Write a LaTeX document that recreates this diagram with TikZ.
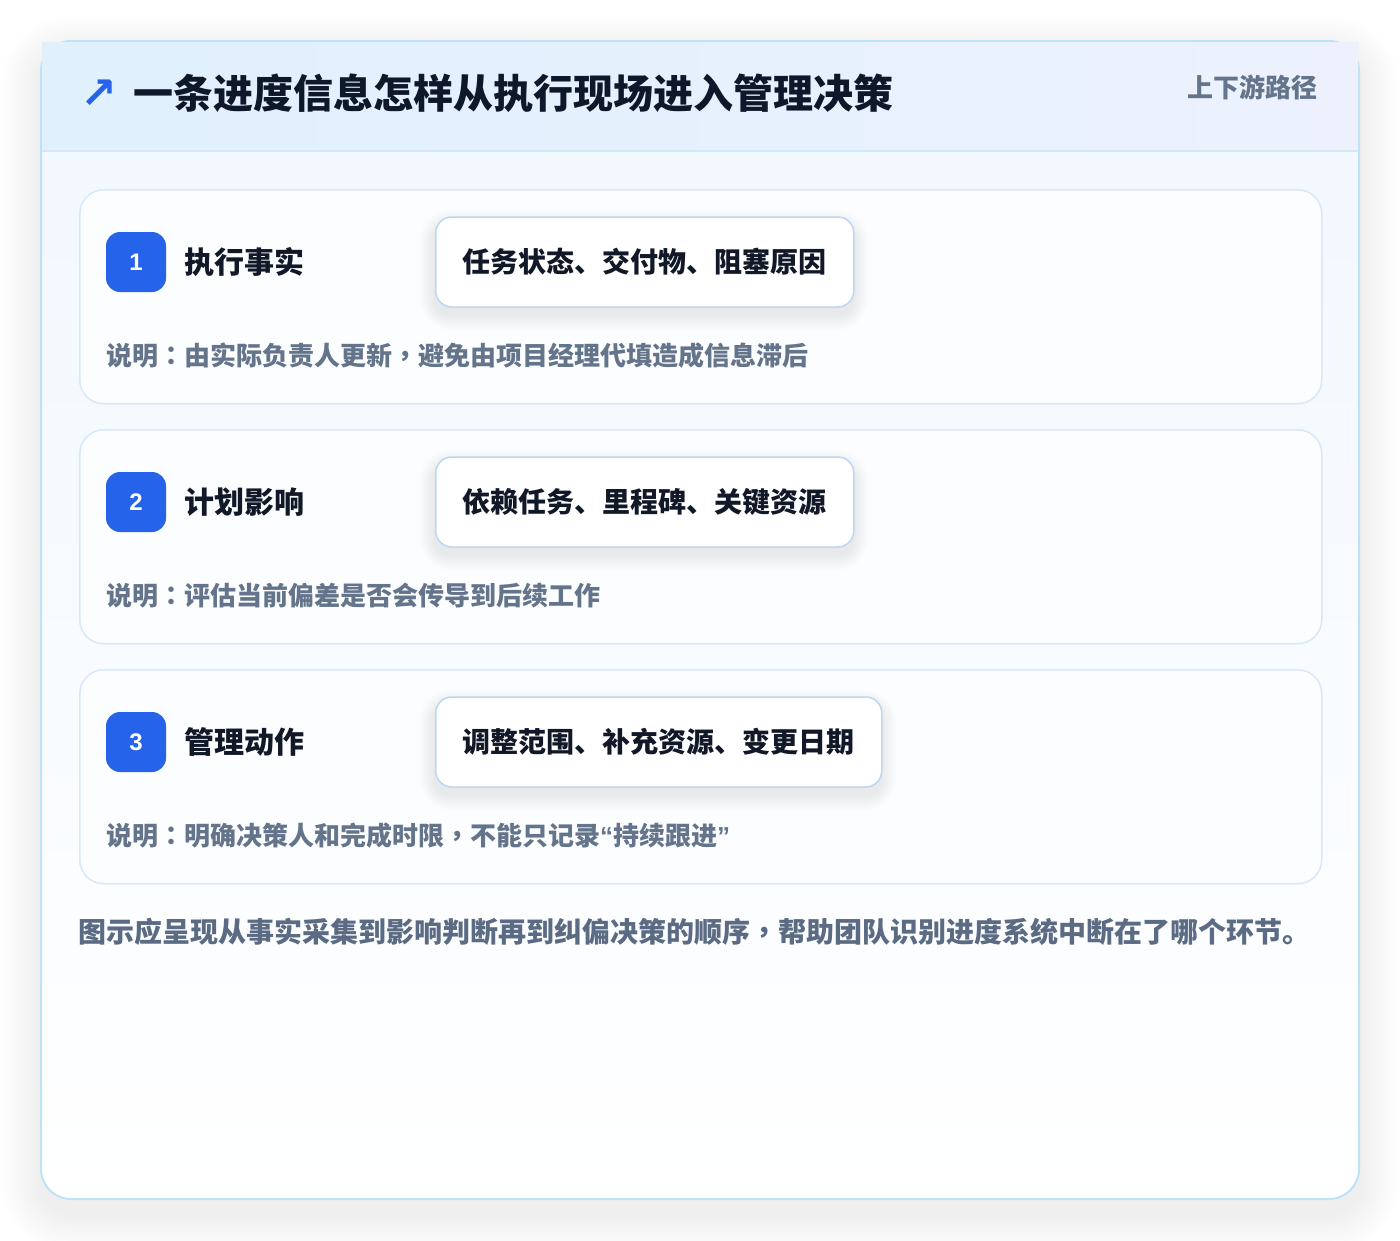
\documentclass[tikz,border=0pt]{standalone}
\usepackage{fontspec}
\setmainfont{Noto Sans CJK SC}
\newfontfamily\tcfont{Noto Sans CJK TC}
\newfontfamily\numfont{Liberation Sans}
\newfontfamily\symfont{DejaVu Sans}
\definecolor{cardline}{HTML}{BEE2F7}
\definecolor{hdrL}{HTML}{E0F0FD}
\definecolor{hdrR}{HTML}{ECF1FD}
\definecolor{hdrline}{HTML}{D3E7F7}
\definecolor{bodytop}{HTML}{F0F7FE}
\definecolor{stepfill}{HTML}{FBFDFF}
\definecolor{stepline}{HTML}{D8E8F8}
\definecolor{chipline}{HTML}{BDD6F2}
\definecolor{badge}{HTML}{2563EB}
\definecolor{titlec}{HTML}{0F172A}
\definecolor{chipc}{HTML}{111827}
\definecolor{descc}{HTML}{64748B}
\definecolor{footc}{HTML}{5B6B83}
\newcommand\fs[1]{\fontsize{#1}{#1}\selectfont}
\newcommand\tcp[1]{{\tcfont #1}}
\newcommand\latq[1]{{\numfont #1}}
\newcommand\softshadow[7]{%
  \foreach \i in {1,...,#6}{%
    \pgfmathsetmacro\rr{#5+\i*1.5}%
    \pgfmathsetmacro\ax{#1-\i*1.5}\pgfmathsetmacro\ay{#2-\i*1.5+#7}%
    \pgfmathsetmacro\bx{#3+\i*1.5}\pgfmathsetmacro\by{#4+\i*1.5+#7}%
    \fill[black,opacity=0.006,rounded corners=\rr pt] (\ax,\ay) rectangle (\bx,\by);}}
\tikzset{
  stepcard/.style={draw=stepline,line width=1.5pt,fill=stepfill,rounded corners=24pt,
    minimum width=1242pt,minimum height=214pt,anchor=north west,inner sep=0pt},
  chip/.style={draw=chipline,line width=1.5pt,fill=white,rounded corners=16pt,
    minimum height=90pt,inner xsep=27pt,inner ysep=0pt,anchor=west,
    font=\bfseries\fs{28},text=chipc},
  badgebox/.style={fill=badge,rounded corners=14pt,minimum size=60pt,inner sep=0pt,
    text=white,font=\numfont\bfseries\fs{24}},
  steplabel/.style={anchor=base west,inner sep=0pt,font=\bfseries\fs{30},text=chipc},
  desc/.style={anchor=base west,inner sep=0pt,font=\bfseries\fs{26},text=descc},
}
\begin{document}
\begin{tikzpicture}[x=1pt,y=-1pt]
\useasboundingbox[fill=white] (0,0) rectangle (1400,1240);
% outer card shadow
\foreach \i in {1,...,16}{%
  \pgfmathsetmacro\rr{30+\i*2.5}%
  \pgfmathsetmacro\ax{41-\i*2.5}\pgfmathsetmacro\ay{41-\i*2.5+14}%
  \pgfmathsetmacro\bx{1359+\i*2.5}\pgfmathsetmacro\by{1199+\i*2.5+14}%
  \fill[black,opacity=0.0055,rounded corners=\rr pt] (\ax,\ay) rectangle (\bx,\by);}
% outer card
\path[draw=cardline,line width=2pt,rounded corners=30pt,top color=bodytop,bottom color=white]
  (41,41) rectangle (1359,1199);
% header band
\fill[left color=hdrL,right color=hdrR] (42,42) rectangle (1358,151);
\draw[hdrline,line width=1.5pt] (42,151) -- (1358,151);
\node[anchor=center,inner sep=0pt,text=badge,font=\symfont\bfseries\fs{44}] (arrow) at (99,94) {↗};
\node[anchor=base west,inner sep=0pt,text=titlec,font=\bfseries\fs{40}] (title) at (133,108)
  {一条进度信息怎样从执行现场进入管理决策};
\node[anchor=base east,inner sep=0pt,text=descc,font=\bfseries\fs{26}] (tag) at (1318,97) {上下游路径};
% step 1
\node[stepcard] (card1) at (79,189) {};
\softshadow{435}{217}{853}{307}{16}{10}{8}
\node[chip] (chip1) at (435,262) {任务状态、交付物、阻塞原因};
\node[badgebox] (badge1) at (136,262) {1};
\node[steplabel] (label1) at (184,273) {执行事实};
\node[desc] (desc1) at (106,365) {说明\tcp{：}由实际负责人更新\tcp{，}避免由项目经理代填造成信息滞后};
% step 2
\node[stepcard] (card2) at (79,429) {};
\softshadow{435}{457}{853}{547}{16}{10}{8}
\node[chip] (chip2) at (435,502) {依赖任务、里程碑、关键资源};
\node[badgebox] (badge2) at (136,502) {2};
\node[steplabel] (label2) at (184,513) {计划影响};
\node[desc] (desc2) at (106,605) {说明\tcp{：}评估当前偏差是否会传导到后续工作};
% step 3
\node[stepcard] (card3) at (79,669) {};
\softshadow{435}{697}{881}{787}{16}{10}{8}
\node[chip] (chip3) at (435,742) {调整范围、补充资源、变更日期};
\node[badgebox] (badge3) at (136,742) {3};
\node[steplabel] (label3) at (184,753) {管理动作};
\node[desc] (desc3) at (106,845) {说明\tcp{：}明确决策人和完成时限\tcp{，}不能只记录\latq{“}持续跟进\latq{”}};
% footer
\node[anchor=base west,inner sep=0pt,text=footc,font=\bfseries\fs{28}] (foot) at (78,942)
  {图示应呈现从事实采集到影响判断再到纠偏决策的顺序\tcp{，}帮助团队识别进度系统中断在了哪个环节。};
\end{tikzpicture}
\end{document}
